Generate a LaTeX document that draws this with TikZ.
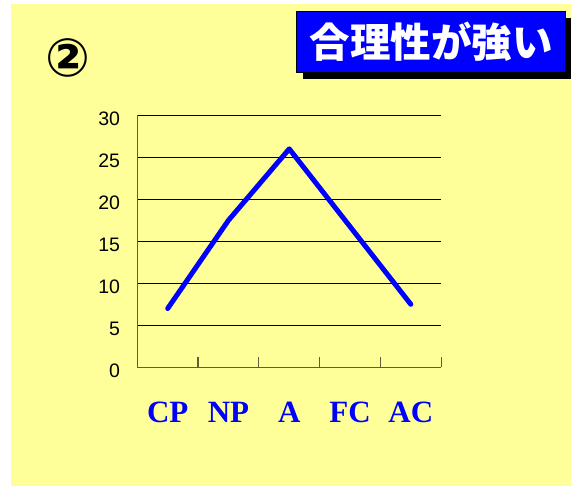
\documentclass[tikz,border=0pt]{standalone}
\usepackage{fontspec}
\setmainfont{Liberation Serif}
\setsansfont{Liberation Sans}
\newfontfamily\jpfont{Noto Sans CJK JP}
\newfontfamily\symfont{DejaVu Sans}
\usetikzlibrary{shadows}
\definecolor{paper}{RGB}{255,255,153}
\definecolor{axisgrey}{RGB}{96,96,56}

\begin{document}
\begin{tikzpicture}[x=1pt,y=1pt]
    \tikzset{%
      grid/.style={black, line width=0.8pt},
      axis/.style={axisgrey, line width=1.2pt},
      curve/.style={blue, line width=5pt, line join=round, line cap=round},
      ylab/.style={anchor=east, inner sep=0pt, font=\sffamily\fontsize{19.5}{19.5}\selectfont},
      xlab/.style={anchor=base, inner sep=0pt, blue, font=\bfseries\fontsize{31}{31}\selectfont},
      titlebox/.style={draw=black, fill=blue, text=white, line width=0.8pt,
        minimum width=269pt, minimum height=61pt, inner sep=0pt,
        font=\jpfont\bfseries\fontsize{40.5}{40.5}\selectfont,
        drop shadow={shadow xshift=6pt, shadow yshift=-6pt, fill=black, opacity=1}},
    }
    \useasboundingbox (0,0) rectangle (571,486);
    \fill [paper] (11,0) rectangle (571,482);

    % number and title
    \node [font=\symfont\bfseries\fontsize{53}{53}\selectfont] (num) at (68,428) {②};
    \node [titlebox] (title) at (431.3,443.8) {合理性が強い};

    \begin{scope}[shift={(137.3,118.7)}, x=60.78pt, y=8.4pt]
      % grid
      \draw [grid] (0,5) -- (5,5);
      \draw [grid] (0,10) -- (5,10);
      \draw [grid] (0,15) -- (5,15);
      \draw [grid] (0,20) -- (5,20);
      \draw [grid] (0,25) -- (5,25);
      \draw [grid] (0,30) -- (5,30);
      % axes
      \draw [axis] (0,30) -- (0,0) -- (5,0);
      \draw [axis] (1,0) -- (1,1.2);
      \draw [axis] (2,0) -- (2,1.2);
      \draw [axis] (3,0) -- (3,1.2);
      \draw [axis] (4,0) -- (4,1.2);
      \draw [axis] (5,0) -- (5,1.2);
      % y labels
      \node [ylab] (Y0) at (-0.28,-0.4) {0};
      \node [ylab] (Y5) at (-0.28,4.6) {5};
      \node [ylab] (Y10) at (-0.28,9.6) {10};
      \node [ylab] (Y15) at (-0.28,14.6) {15};
      \node [ylab] (Y20) at (-0.28,19.6) {20};
      \node [ylab] (Y25) at (-0.28,24.6) {25};
      \node [ylab] (Y30) at (-0.28,29.6) {30};
      % data
      \coordinate (CP) at (0.5,7);
      \coordinate (NP) at (1.5,17.5);
      \coordinate (A) at (2.5,26);
      \coordinate (FC) at (3.5,16.75);
      \coordinate (AC) at (4.5,7.5);
      \draw [curve] (CP) -- (NP) -- (A) -- (FC) -- (AC);
      % x labels
      \node [xlab] (lCP) at (0.5,-6.63) {CP};
      \node [xlab] (lNP) at (1.5,-6.63) {NP};
      \node [xlab] (lA) at (2.5,-6.63) {A};
      \node [xlab] (lFC) at (3.5,-6.63) {FC};
      \node [xlab] (lAC) at (4.5,-6.63) {AC};
    \end{scope}
  \end{tikzpicture}
\end{document}
